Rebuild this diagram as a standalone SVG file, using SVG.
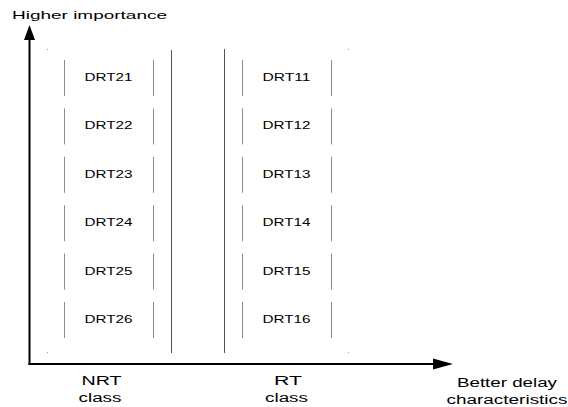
<svg xmlns="http://www.w3.org/2000/svg" width="568" height="407" viewBox="0 0 568 407">
  <style>
    text { font-family: "Liberation Sans", Arial, sans-serif; fill: #000; }
    .lbl { font-size: 10px; text-anchor: middle; }
    .axis-lbl { font-size: 11px; }
    .cls { font-size: 12px; text-anchor: middle; }
    .side { stroke: #8a8a8a; stroke-width: 1; fill: none; }
    .wall { stroke: #555; stroke-width: 1; fill: none; }
    .axis { stroke: #000; stroke-width: 2; fill: none; }
    .dot { fill: #999; }
  </style>
  <defs>
    <!-- DRT box: only the two vertical sides are drawn -->
    <g id="box">
      <line class="side" x1="0.5" y1="0" x2="0.5" y2="36"/>
      <line class="side" x1="89.5" y1="0" x2="89.5" y2="36"/>
    </g>
  </defs>

  <rect width="568" height="407" fill="#fff"/>

  <!-- class containers -->
  <g id="nrt-class">
    <line class="wall" x1="171.5" y1="50" x2="171.5" y2="353"/>
    <rect class="dot" x="47" y="49" width="1" height="1"/>
    <rect class="dot" x="47" y="352" width="1" height="1"/>
  </g>
  <g id="rt-class">
    <line class="wall" x1="224.5" y1="49" x2="224.5" y2="353"/>
    <rect class="dot" x="348" y="49" width="1" height="1"/>
    <rect class="dot" x="348" y="352" width="1" height="1"/>
  </g>

  <!-- NRT column -->
  <g id="DRT21"><use href="#box" x="64" y="60"/><text class="lbl" x="108.5" y="81" textLength="48" lengthAdjust="spacingAndGlyphs">DRT21</text></g>
  <g id="DRT22"><use href="#box" x="64" y="108.4"/><text class="lbl" x="108.5" y="129.4" textLength="48" lengthAdjust="spacingAndGlyphs">DRT22</text></g>
  <g id="DRT23"><use href="#box" x="64" y="156.8"/><text class="lbl" x="108.5" y="177.8" textLength="48" lengthAdjust="spacingAndGlyphs">DRT23</text></g>
  <g id="DRT24"><use href="#box" x="64" y="205.2"/><text class="lbl" x="108.5" y="226.2" textLength="48" lengthAdjust="spacingAndGlyphs">DRT24</text></g>
  <g id="DRT25"><use href="#box" x="64" y="253.6"/><text class="lbl" x="108.5" y="274.6" textLength="48" lengthAdjust="spacingAndGlyphs">DRT25</text></g>
  <g id="DRT26"><use href="#box" x="64" y="302"/><text class="lbl" x="108.5" y="323" textLength="48" lengthAdjust="spacingAndGlyphs">DRT26</text></g>

  <!-- RT column -->
  <g id="DRT11"><use href="#box" x="242" y="60"/><text class="lbl" x="286.5" y="81" textLength="48" lengthAdjust="spacingAndGlyphs">DRT11</text></g>
  <g id="DRT12"><use href="#box" x="242" y="108.4"/><text class="lbl" x="286.5" y="129.4" textLength="48" lengthAdjust="spacingAndGlyphs">DRT12</text></g>
  <g id="DRT13"><use href="#box" x="242" y="156.8"/><text class="lbl" x="286.5" y="177.8" textLength="48" lengthAdjust="spacingAndGlyphs">DRT13</text></g>
  <g id="DRT14"><use href="#box" x="242" y="205.2"/><text class="lbl" x="286.5" y="226.2" textLength="48" lengthAdjust="spacingAndGlyphs">DRT14</text></g>
  <g id="DRT15"><use href="#box" x="242" y="253.6"/><text class="lbl" x="286.5" y="274.6" textLength="48" lengthAdjust="spacingAndGlyphs">DRT15</text></g>
  <g id="DRT16"><use href="#box" x="242" y="302"/><text class="lbl" x="286.5" y="323" textLength="48" lengthAdjust="spacingAndGlyphs">DRT16</text></g>

  <!-- axes -->
  <g id="connectors">
    <line class="axis" x1="29.5" y1="365" x2="29.5" y2="38"/>
    <polygon points="29.5,25 24,40 35,40" fill="#000"/>
    <line class="axis" x1="28.5" y1="364" x2="436" y2="364"/>
    <polygon points="453,364 433,358.5 433,369.5" fill="#000"/>
  </g>

  <!-- axis and class labels -->
  <text class="axis-lbl" x="12" y="19" textLength="155" lengthAdjust="spacingAndGlyphs">Higher importance</text>
  <text class="cls" x="101.5" y="385" textLength="40" lengthAdjust="spacingAndGlyphs">NRT</text>
  <text class="cls" x="100" y="402" textLength="43" lengthAdjust="spacingAndGlyphs">class</text>
  <text class="cls" x="288" y="385" textLength="28" lengthAdjust="spacingAndGlyphs">RT</text>
  <text class="cls" x="286.5" y="402" textLength="43" lengthAdjust="spacingAndGlyphs">class</text>
  <text class="cls" x="507" y="387" textLength="100" lengthAdjust="spacingAndGlyphs">Better delay</text>
  <text class="cls" x="507" y="404" textLength="121" lengthAdjust="spacingAndGlyphs">characteristics</text>
</svg>
